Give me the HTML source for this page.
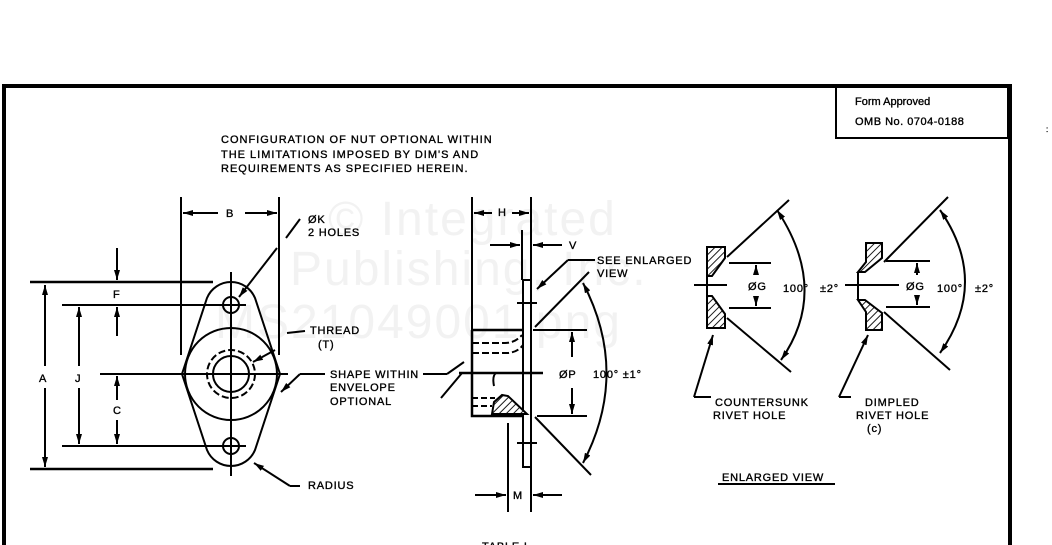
<!DOCTYPE html>
<html><head><meta charset="utf-8"><style>
html,body{margin:0;padding:0;background:#fff;}
svg{display:block}
text{font-family:"Liberation Sans",sans-serif;fill:#000;stroke:#000;stroke-width:0.35px}
.t{font-size:11px;letter-spacing:1px}
.s{font-size:11px;letter-spacing:0.8px}
.wm{font-size:48px;fill:#f2f2f2;stroke:none;letter-spacing:2px}
</style></head><body>
<svg width="1052" height="545" viewBox="0 0 1052 545" xmlns="http://www.w3.org/2000/svg">
<defs>
<pattern id="h" width="5" height="5" patternUnits="userSpaceOnUse" patternTransform="rotate(45)">
<rect width="5" height="5" fill="#fff"/><line x1="0" y1="0" x2="0" y2="5" stroke="#000" stroke-width="1.8"/></pattern>
<marker id="a" viewBox="0 0 10 6" refX="10" refY="3" markerWidth="10" markerHeight="6" orient="auto-start-reverse" markerUnits="userSpaceOnUse"><path d="M0,0 L10,3 L0,6 Z" fill="#000"/></marker>
</defs>
<text class="wm" x="328" y="235">© Integrated</text>
<text class="wm" x="290" y="285">Publishing, Inc.</text>
<text class="wm" x="215" y="338">MS21049001.png</text>

<g stroke="#000" fill="none">
<path d="M4,545 V86 H1010 V545" stroke-width="4"/>
<rect x="836" y="86" width="172" height="52" stroke-width="2"/>
</g>
<text x="855" y="105" style="font-size:11px">Form Approved</text>
<text x="855" y="125" style="font-size:11px;letter-spacing:0.5px">OMB No. 0704-0188</text>
<text x="1046" y="132" style="font-size:8px">:</text>

<text class="t" x="221" y="143">CONFIGURATION OF NUT OPTIONAL WITHIN</text>
<text class="t" x="221" y="158">THE LIMITATIONS IMPOSED BY DIM'S AND</text>
<text class="t" x="221" y="172">REQUIREMENTS AS SPECIFIED HEREIN.</text>

<g stroke="#000" fill="none" stroke-width="2">
<line x1="181" y1="197" x2="181" y2="355"/>
<line x1="279" y1="197" x2="279" y2="355"/>
<line x1="183" y1="213" x2="218" y2="213" marker-start="url(#a)"/>
<line x1="245" y1="213" x2="277" y2="213" marker-end="url(#a)"/>
<line x1="30" y1="282" x2="213" y2="282" stroke-width="2.5"/>
<line x1="30" y1="469" x2="213" y2="469" stroke-width="2.5"/>
<line x1="62" y1="305" x2="245" y2="305"/>
<line x1="62" y1="446" x2="245" y2="446"/>
<line x1="100" y1="374" x2="288" y2="374"/>
<line x1="45" y1="285" x2="45" y2="366" marker-start="url(#a)"/>
<line x1="45" y1="388" x2="45" y2="467" marker-end="url(#a)"/>
<line x1="79" y1="307" x2="79" y2="366" marker-start="url(#a)"/>
<line x1="79" y1="388" x2="79" y2="444" marker-end="url(#a)"/>
<line x1="117" y1="248" x2="117" y2="280" marker-end="url(#a)"/>
<line x1="117" y1="336" x2="117" y2="307" marker-end="url(#a)"/>
<line x1="117" y1="376" x2="117" y2="400" marker-start="url(#a)"/>
<line x1="117" y1="420" x2="117" y2="444" marker-end="url(#a)"/>
<path d="M207,298 A26,26 0 0 1 255,298 L280,374 L255,450 A26,26 0 0 1 207,450 L182,374 Z"/>
<circle cx="231" cy="374" r="46"/>
<circle cx="231" cy="374" r="18"/>
<circle cx="231" cy="374" r="24" stroke-dasharray="7,3"/>
<circle cx="231" cy="305" r="8"/>
<circle cx="231" cy="446" r="8"/>
<line x1="231" y1="272" x2="231" y2="476"/>
<line x1="220" y1="305" x2="246" y2="305"/>
<line x1="220" y1="446" x2="246" y2="446"/>
<line x1="300" y1="219" x2="286" y2="238"/>
<line x1="277" y1="248" x2="239" y2="297" marker-end="url(#a)"/>
<line x1="305" y1="331" x2="287" y2="333"/>
<line x1="275" y1="350" x2="253" y2="362" marker-end="url(#a)"/>
<line x1="325" y1="374" x2="300" y2="374"/>
<line x1="300" y1="374" x2="281" y2="392" marker-end="url(#a)"/>
<line x1="423" y1="374" x2="447" y2="374"/>
<line x1="447" y1="374" x2="464" y2="362"/>
<line x1="441" y1="398" x2="462" y2="373"/>
<line x1="300" y1="486" x2="290" y2="486"/>
<line x1="290" y1="486" x2="254" y2="463" marker-end="url(#a)"/>
</g>
<text class="s" x="226" y="217">B</text>
<text class="s" x="308" y="223">ØK</text>
<text class="s" x="308" y="236">2 HOLES</text>
<text class="s" x="39" y="382">A</text>
<text class="s" x="75" y="382">J</text>
<text class="s" x="113" y="298">F</text>
<text class="s" x="113" y="414">C</text>
<text class="s" x="310" y="334">THREAD</text>
<text class="s" x="318" y="348">(T)</text>
<text class="s" x="330" y="378">SHAPE WITHIN</text>
<text class="s" x="330" y="391">ENVELOPE</text>
<text class="s" x="330" y="405">OPTIONAL</text>
<text class="s" x="308" y="489">RADIUS</text>

<g stroke="#000" fill="none" stroke-width="2">
<line x1="472" y1="197" x2="472" y2="330"/>
<line x1="531" y1="197" x2="531" y2="512"/>
<line x1="474" y1="213" x2="492" y2="213" marker-start="url(#a)"/>
<line x1="512" y1="213" x2="529" y2="213" marker-end="url(#a)"/>
<line x1="522" y1="230" x2="522" y2="280"/>
<line x1="490" y1="245" x2="520" y2="245" marker-end="url(#a)"/>
<line x1="562" y1="245" x2="533" y2="245" marker-end="url(#a)"/>
<path d="M472,330 H523 M472,330 V416 H527" stroke-width="2.5"/>
<rect x="523" y="280" width="8" height="187" fill="#fff"/>
<path d="M472,343 H505 Q515,343 522,335" stroke-dasharray="7,3"/>
<path d="M472,353 H508 Q518,352 523,345" stroke-dasharray="7,3"/>
<path d="M472,398 H495" stroke-dasharray="6,3"/>
<path d="M472,406 H492" stroke-dasharray="6,3"/>
<path d="M496,373 Q492,376 494,386"/>
<polygon points="492,414 494,402 502,395 508,396 527,414" fill="url(#h)"/>
<line x1="459" y1="373" x2="543" y2="373" stroke-width="2.5"/>
<line x1="517" y1="303" x2="537" y2="303"/>
<line x1="517" y1="443" x2="537" y2="443"/>
<line x1="508" y1="423" x2="508" y2="512"/>
<line x1="475" y1="495" x2="506" y2="495" marker-end="url(#a)"/>
<line x1="562" y1="495" x2="533" y2="495" marker-end="url(#a)"/>
<line x1="595" y1="260" x2="568" y2="260"/>
<line x1="568" y1="260" x2="537" y2="289" marker-end="url(#a)"/>
<line x1="533" y1="330" x2="587" y2="330"/>
<line x1="537" y1="416" x2="587" y2="416"/>
<line x1="572" y1="357" x2="572" y2="332" marker-end="url(#a)"/>
<line x1="572" y1="388" x2="572" y2="414" marker-end="url(#a)"/>
<line x1="535" y1="327" x2="589" y2="272"/>
<line x1="535" y1="417" x2="591" y2="475"/>
<path d="M583,283 Q630,373 583,463" marker-start="url(#a)" marker-end="url(#a)"/>
</g>
<text class="s" x="498" y="216">H</text>
<text class="s" x="569" y="249">V</text>
<text class="s" x="513" y="499">M</text>
<text class="s" x="597" y="264">SEE ENLARGED</text>
<text class="s" x="597" y="277">VIEW</text>
<text class="s" x="559" y="378">ØP</text>
<text class="s" x="593" y="378">100° ±1°</text>

<g stroke="#000" fill="none" stroke-width="2">
<polygon points="707,247 725,247 725,258 712,276 707,276" fill="url(#h)"/>
<polygon points="707,296 712,296 725,314 725,328 707,328" fill="url(#h)"/>
<line x1="707" y1="276" x2="707" y2="296"/>
<line x1="694" y1="285" x2="727" y2="285"/>
<line x1="729" y1="263" x2="771" y2="263"/>
<line x1="729" y1="308" x2="771" y2="308"/>
<line x1="756" y1="275" x2="756" y2="265" marker-end="url(#a)"/>
<line x1="756" y1="298" x2="756" y2="306" marker-end="url(#a)"/>
<line x1="727" y1="257" x2="789" y2="200"/>
<line x1="727" y1="318" x2="791" y2="372"/>
<path d="M777,210 Q830,290 781,360" marker-start="url(#a)" marker-end="url(#a)"/>
<line x1="711" y1="397" x2="694" y2="397"/>
<line x1="694" y1="397" x2="713" y2="335" marker-end="url(#a)"/>
</g>
<text class="s" x="748" y="290">ØG</text>
<text class="s" x="783" y="292">100°</text>
<text class="s" x="820" y="292">±2°</text>
<text class="s" x="715" y="406">COUNTERSUNK</text>
<text class="s" x="713" y="419">RIVET HOLE</text>

<g stroke="#000" fill="none" stroke-width="2">
<polygon points="866,243 882,243 882,258 865,272 858,272 866,262" fill="url(#h)"/>
<polygon points="858,300 865,300 882,313 882,330 866,330 866,312" fill="url(#h)"/>
<line x1="858" y1="272" x2="858" y2="300"/>
<line x1="845" y1="285" x2="899" y2="285"/>
<line x1="886" y1="261" x2="930" y2="261"/>
<line x1="886" y1="307" x2="930" y2="307"/>
<line x1="917" y1="275" x2="917" y2="263" marker-end="url(#a)"/>
<line x1="917" y1="295" x2="917" y2="305" marker-end="url(#a)"/>
<line x1="884" y1="262" x2="948" y2="197"/>
<line x1="884" y1="312" x2="950" y2="370"/>
<path d="M940,210 Q990,282 940,353" marker-start="url(#a)" marker-end="url(#a)"/>
<line x1="851" y1="397" x2="839" y2="397"/>
<line x1="839" y1="397" x2="868" y2="335" marker-end="url(#a)"/>
<line x1="718" y1="484" x2="835" y2="484"/>
</g>
<text class="s" x="906" y="290">ØG</text>
<text class="s" x="937" y="292">100°</text>
<text class="s" x="975" y="292">±2°</text>
<text class="s" x="865" y="406">DIMPLED</text>
<text class="s" x="856" y="419">RIVET HOLE</text>
<text class="s" x="867" y="432">(c)</text>
<text class="s" x="722" y="481">ENLARGED VIEW</text>
<text class="s" x="482" y="550">TABLE I</text>
</svg>
</body></html>
